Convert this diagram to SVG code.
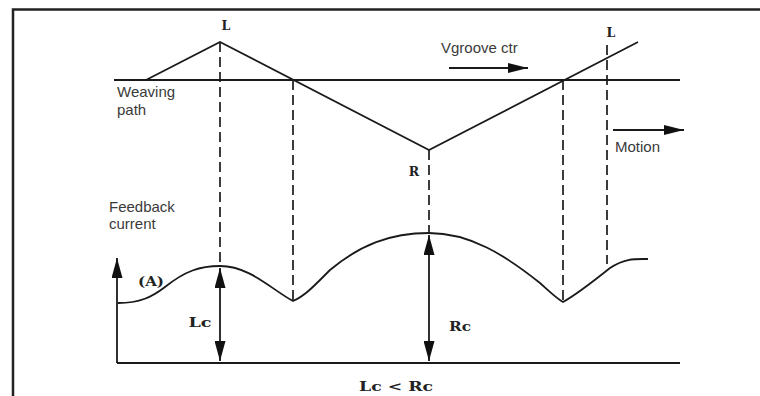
<svg xmlns="http://www.w3.org/2000/svg" width="760" height="396" viewBox="0 0 760 396">
<style>
.ln{fill:none;stroke:#1a1a1a;stroke-width:1.8}
.dash{fill:none;stroke:#1a1a1a;stroke-width:1.7;stroke-dasharray:10 5}
.sans{font-family:"Liberation Sans",Arial,sans-serif;font-size:15px;fill:#3a3a3a}
.mono{font-family:"DejaVu Serif","Liberation Serif",serif;font-weight:bold;font-size:12.5px;fill:#222}
</style>
<defs>
<marker id="ah" markerUnits="userSpaceOnUse" markerWidth="20" markerHeight="10" refX="20" refY="5" orient="auto-start-reverse">
<path d="M0,0 L20,5 L0,10 z" fill="#111"/>
</marker>
<marker id="av" markerUnits="userSpaceOnUse" markerWidth="20" markerHeight="11" refX="20" refY="5.5" orient="auto-start-reverse">
<path d="M0,0 L20,5.5 L0,11 z" fill="#111"/>
</marker>
</defs>
<rect width="760" height="396" fill="#fff"/>
<g id="frame">
<path d="M13,396 V9.5 H760" fill="none" stroke="#222" stroke-width="2.5"/>
</g>
<g id="weaving-path">
<line class="ln" x1="114" y1="80" x2="680" y2="80"/>
<polyline class="ln" points="146,80 220,42 429,150 638,42"/>
<text class="sans" x="117" y="97">Weaving</text>
<text class="sans" x="117" y="115">path</text>
<text class="mono" x="226" y="30" text-anchor="middle">L</text>
<text class="mono" x="611" y="37" text-anchor="middle">L</text>
<text class="mono" x="414" y="176" text-anchor="middle">R</text>
</g>
<g id="feedback-current">
<path class="ln" d="M118,303 C140,303 152,297 165,287 C185,271 200,266 220,266 C250,266 272,290 293,301 C305,296 315,285 330,270 C360,245 390,233 429,233 C470,233 505,255 540,283 C550,292 556,298 563,302 C572,297 595,280 610,268 C625,258 635,259 648,259"/>
<text class="sans" x="109" y="212">Feedback</text>
<text class="sans" x="109" y="229">current</text>
<text class="mono" x="151" y="286" text-anchor="middle" textLength="26" lengthAdjust="spacingAndGlyphs">(A)</text>
<text class="mono" x="200" y="327" text-anchor="middle" textLength="23" lengthAdjust="spacingAndGlyphs">Lc</text>
<text class="mono" x="460" y="331" text-anchor="middle" textLength="22" lengthAdjust="spacingAndGlyphs">Rc</text>
<text class="mono" x="396" y="391" text-anchor="middle" textLength="74" lengthAdjust="spacingAndGlyphs">Lc &lt; Rc</text>
</g>
<g id="motion-labels">
<text class="sans" x="441" y="53">Vgroove ctr</text>
<text class="sans" x="615" y="152">Motion</text>
</g>
<g id="connectors">
<line class="dash" x1="220" y1="42" x2="220" y2="266"/>
<line class="dash" x1="293" y1="80" x2="293" y2="301"/>
<line class="dash" x1="429" y1="150" x2="429" y2="233"/>
<line class="dash" x1="563" y1="80" x2="563" y2="302"/>
<line class="dash" x1="607" y1="45" x2="607" y2="264"/>
<line class="ln" x1="117" y1="363" x2="680" y2="363"/>
<line class="ln" x1="117" y1="363" x2="117" y2="258" marker-end="url(#av)"/>
<line class="ln" x1="220" y1="268" x2="220" y2="361" marker-start="url(#av)" marker-end="url(#av)"/>
<line class="ln" x1="429" y1="235" x2="429" y2="361" marker-start="url(#av)" marker-end="url(#av)"/>
<line class="ln" x1="449" y1="68" x2="528" y2="68" marker-end="url(#ah)"/>
<line class="ln" x1="613" y1="130" x2="684" y2="130" marker-end="url(#ah)"/>
</g>
</svg>
